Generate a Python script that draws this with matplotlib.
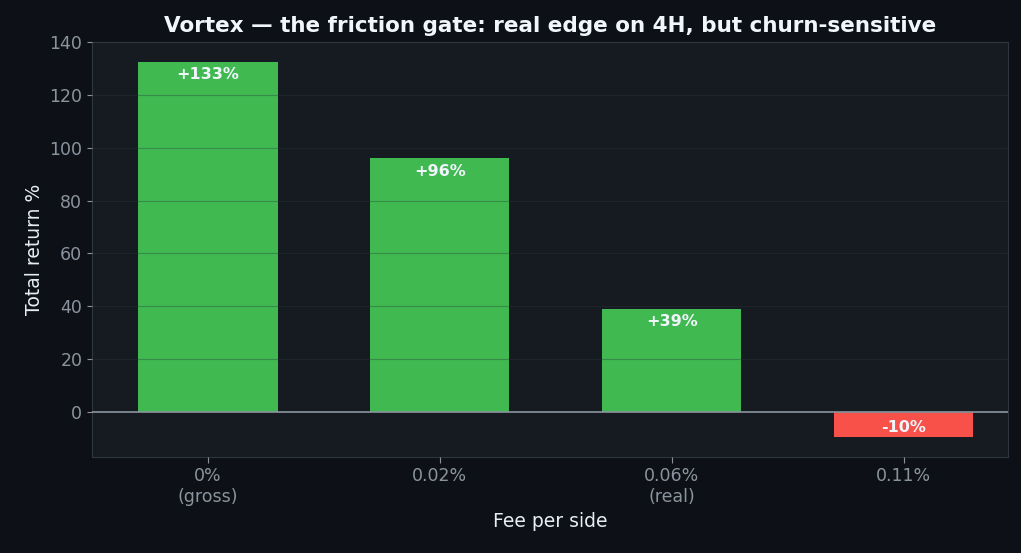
import matplotlib
matplotlib.use("Agg")
import matplotlib.pyplot as plt

categories = ["0%\n(gross)", "0.02%\n(real)".replace("\n(real)", ""), "0.06%\n(real)", "0.11%"]
returns = [132.5, 96.0, 39.0, -9.5]
labels = ["+133%", "+96%", "+39%", "-10%"]

fig = plt.figure(figsize=(10.21, 5.53), dpi=100, facecolor="#0d1117")
ax = fig.add_axes([92/1021, 1-457/553, (1008-92)/1021, (457-42)/553])
ax.set_facecolor("#161b22")
colors = ["#3fb950" if v >= 0 else "#f85149" for v in returns]
x = range(len(categories))
ax.bar(x, returns, width=0.6, color=colors, zorder=2)
ax.set_axisbelow(False)
ax.grid(axis="y", color="#30363d", alpha=0.35, linewidth=0.8, zorder=3)
ax.axhline(0, color="#8b949e", linewidth=1.2, zorder=4)
for i, (v, t) in enumerate(zip(returns, labels)):
    y = v - 2 if v >= 0 else -3
    ax.text(i, y, t, ha="center", va="top", color="#f0f6fc", fontsize=11.5, fontweight="bold", zorder=5)
ax.set_ylim(-17, 140)
ax.set_xlim(-0.5, 3.45)
ax.set_xticks(list(x))
ax.set_xticklabels(categories)
ax.tick_params(colors="#8b949e", labelsize=12.5)
ax.tick_params(axis="x", length=4)
for s in ax.spines.values():
    s.set_color("#30363d")
ax.set_xlabel("Fee per side", color="#e6edf3", fontsize=13.5)
ax.set_ylabel("Total return %", color="#e6edf3", fontsize=13.5)
ax.set_title("Vortex — the friction gate: real edge on 4H, but churn-sensitive",
             color="#f0f6fc", fontsize=15.5, fontweight="bold", pad=7)
fig.savefig("out.png", dpi=100, facecolor=fig.get_facecolor())
